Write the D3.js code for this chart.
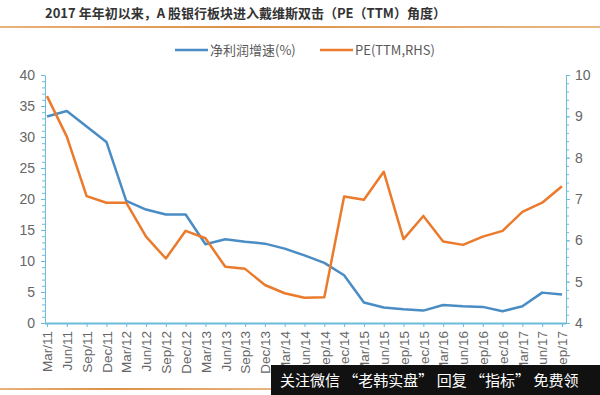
<!DOCTYPE html>
<html>
<head>
<meta charset="utf-8">
<script src="https://cdn.jsdelivr.net/npm/d3@7"></script>
<style>
  body { margin: 0; background: #fff; }
  svg { display: block; font-family: "Liberation Sans", "Noto Sans CJK SC", sans-serif; }
</style>
</head>
<body>
<svg width="600" height="395"></svg>
<script>
// quarters from Mar/11 to Sep/17
var quarters = ["Mar/11","Jun/11","Sep/11","Dec/11","Mar/12","Jun/12","Sep/12","Dec/12",
    "Mar/13","Jun/13","Sep/13","Dec/13","Mar/14","Jun/14","Sep/14","Dec/14",
    "Mar/15","Jun/15","Sep/15","Dec/15","Mar/16","Jun/16","Sep/16","Dec/16",
    "Mar/17","Jun/17","Sep/17"];

// 净利润增速(%), left axis
var profitGrowth = [33.3, 34.2, 31.7, 29.2, 19.7, 18.3, 17.5, 17.5,
    12.7, 13.5, 13.1, 12.8, 12.0, 10.9, 9.7, 7.7,
    3.3, 2.5, 2.2, 2.0, 2.9, 2.7, 2.6, 1.9,
    2.7, 4.9, 4.6];

// PE(TTM), right axis
var peTTM = [9.49, 8.51, 7.07, 6.91, 6.91, 6.09, 5.56, 6.23,
    6.05, 5.36, 5.31, 4.92, 4.72, 4.61, 4.62, 7.06,
    6.98, 7.66, 6.03, 6.59, 5.97, 5.89, 6.09, 6.23,
    6.69, 6.91, 7.31];

var leftTicks = [0, 5, 10, 15, 20, 25, 30, 35, 40];
var rightTicks = [4, 5, 6, 7, 8, 9, 10];

var titleText = "2017 年年初以来，A 股银行板块进入戴维斯双击（PE（TTM）角度）";
var legendNames = ["净利润增速(%)", "PE(TTM,RHS)"];
var watermark = "关注微信 “老韩实盘” 回复 “指标” 免费领";

var blue = "#4a8cc4", orange = "#ea7a2c", axisColor = "#6cbbd9", textColor = "#666";

var svg = d3.select("svg");

// title and decorative rules
svg.append("text").attr("x", 45).attr("y", 18)
    .style("font-family", "'Noto Sans CJK SC', sans-serif")
    .style("font-size", "13px").style("font-weight", "bold").style("fill", "#333")
    .text(titleText);

var grad = svg.append("defs").append("linearGradient").attr("id", "rule");
grad.append("stop").attr("offset", "0%").attr("stop-color", "#e9b27a");
grad.append("stop").attr("offset", "40%").attr("stop-color", "#dd9046");
grad.append("stop").attr("offset", "100%").attr("stop-color", "#e8b884");
svg.append("rect").attr("x", 0).attr("y", 26).attr("width", 600).attr("height", 2).style("fill", "url(#rule)");
svg.append("rect").attr("x", 0).attr("y", 388).attr("width", 280).attr("height", 2).style("fill", "url(#rule)");

var x = d3.scalePoint().domain(quarters).range([47, 562]);
var yL = d3.scaleLinear().domain([0, 40]).range([323, 75]);
var yR = d3.scaleLinear().domain([4, 10]).range([323, 75]);

// minor ticks
svg.append("g").attr("transform", "translate(45,0)")
    .call(d3.axisLeft(yL).ticks(40).tickSize(3).tickFormat(""))
    .call(function (g) {
        g.select(".domain").remove();
        g.selectAll("line").style("stroke", axisColor);
    });
svg.append("g").attr("transform", "translate(566,0)")
    .call(d3.axisRight(yR).tickValues(d3.range(4, 10.01, 0.2)).tickSize(3).tickFormat(""))
    .call(function (g) {
        g.select(".domain").remove();
        g.selectAll("line").style("stroke", axisColor);
    });

// left axis
svg.append("g").attr("transform", "translate(45,0)")
    .call(d3.axisLeft(yL).tickValues(leftTicks).tickSize(4).tickSizeOuter(0).tickPadding(6))
    .call(function (g) {
        g.select(".domain").style("stroke", axisColor);
        g.selectAll("line").style("stroke", axisColor);
        g.selectAll("text").style("font-size", "14px").style("fill", textColor);
    });

// right axis
svg.append("g").attr("transform", "translate(566,0)")
    .call(d3.axisRight(yR).tickValues(rightTicks).tickFormat(d3.format("d")).tickSize(4).tickSizeOuter(0).tickPadding(5))
    .call(function (g) {
        g.select(".domain").style("stroke", axisColor);
        g.selectAll("line").style("stroke", axisColor);
        g.selectAll("text").style("font-size", "14px").style("fill", textColor);
    });

// x axis
svg.append("g").attr("transform", "translate(0,323)")
    .call(d3.axisBottom(x).tickSize(4).tickSizeOuter(0).tickPadding(6))
    .call(function (g) {
        g.select(".domain").attr("d", "M45,0.5H566").style("stroke", axisColor).style("stroke-width", 2);
        g.selectAll("line").style("stroke", axisColor);
        g.selectAll("text")
            .attr("transform", "rotate(-90)")
            .attr("x", -8).attr("y", 0).attr("dy", "0.35em")
            .style("text-anchor", "end")
            .style("font-size", "13.5px").style("fill", textColor);
    });

// lines
var lineL = d3.line().x(function (d, i) { return x(quarters[i]); }).y(function (d) { return yL(d); });
var lineR = d3.line().x(function (d, i) { return x(quarters[i]); }).y(function (d) { return yR(d); });

svg.append("path").datum(profitGrowth).attr("d", lineL)
    .style("fill", "none").style("stroke", blue).style("stroke-width", 2.5).style("stroke-linejoin", "round");
svg.append("path").datum(peTTM).attr("d", lineR)
    .style("fill", "none").style("stroke", orange).style("stroke-width", 2.5).style("stroke-linejoin", "round");

// legend
var legend = svg.append("g").selectAll("g").data(legendNames).enter().append("g")
    .attr("transform", function (d, i) { return "translate(" + (i == 0 ? 175 : 320) + ",50)"; });
legend.append("line").attr("x1", 0).attr("x2", 33).attr("y1", 0).attr("y2", 0)
    .style("stroke", function (d, i) { return i == 0 ? blue : orange; }).style("stroke-width", 2.5);
legend.append("text").attr("x", 35).attr("y", 0).attr("dy", "0.35em")
    .style("font-family", "'Noto Sans CJK SC', sans-serif")
    .style("font-size", "13px").style("fill", "#595959")
    .text(function (d) { return d; });

// watermark overlay
svg.append("rect").attr("x", 271).attr("y", 365).attr("width", 329).attr("height", 30).style("fill", "#111");
svg.append("text").attr("x", 280).attr("y", 386)
    .style("font-family", "'Noto Sans CJK SC', sans-serif")
    .style("font-size", "15px").style("fill", "#fff")
    .text(watermark);
</script>
</body>
</html>
